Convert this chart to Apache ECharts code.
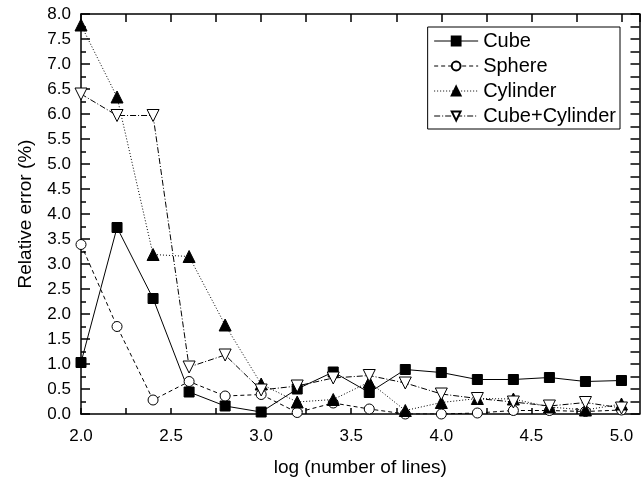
<!DOCTYPE html>
<html>
<head>
<meta charset="utf-8">
<title>Relative error</title>
<script src="https://cdn.jsdelivr.net/npm/echarts@6/dist/echarts.min.js"></script>
<style>
  html, body { margin: 0; padding: 0; background: #fff; }
  #main { width: 642px; height: 482px; }
</style>
</head>
<body>
<div id="main"></div>
<script>
// x = log(number of lines)
var logLines = [2.0, 2.2, 2.4, 2.6, 2.8, 3.0, 3.2, 3.4, 3.6, 3.8, 4.0, 4.2, 4.4, 4.6, 4.8, 5.0];

// relative error (%)
var cube         = [1.03, 3.73, 2.31, 0.44, 0.16, 0.04, 0.50, 0.84, 0.43, 0.89, 0.83, 0.69, 0.69, 0.73, 0.65, 0.67];
var sphere       = [3.39, 1.75, 0.28, 0.65, 0.36, 0.39, 0.03, 0.22, 0.10, 0.00, 0.00, 0.02, 0.07, 0.07, 0.05, 0.08];
var cylinder     = [7.78, 6.34, 3.19, 3.15, 1.78, 0.60, 0.24, 0.29, 0.64, 0.07, 0.23, 0.31, 0.30, 0.14, 0.08, 0.20];
var cubeCylinder = [6.40, 5.97, 5.97, 0.94, 1.18, 0.48, 0.56, 0.72, 0.77, 0.62, 0.40, 0.31, 0.24, 0.16, 0.23, 0.12];

// x tick labels shown every 0.5
var xLabels = ['2.0', '2.5', '3.0', '3.5', '4.0', '4.5', '5.0'];

function pairs(ys) {
    return logLines.map(function (x, i) { return [x, ys[i]]; });
}

var font = 'Liberation Sans, Arial, sans-serif';

function mkSeries(name, ys, symbol, filled, lineType, rotate) {
    return {
        name: name,
        type: 'line',
        data: pairs(ys),
        symbol: symbol,
        symbolSize: symbol === 'triangle' ? 12 : 10,
        symbolRotate: rotate || 0,
        showAllSymbol: true,
        lineStyle: { color: '#000', width: 1, type: lineType },
        itemStyle: {
            color: filled ? '#000' : '#fff',
            borderColor: '#000',
            borderWidth: 1
        },
        emphasis: { disabled: true },
        z: 3
    };
}

function xLabel(v) {
    var s = v.toFixed(1);
    return (Math.abs(v * 2 - Math.round(v * 2)) < 1e-6 && xLabels.indexOf(s) >= 0) ? s : '';
}

var axisLine = { show: true, onZero: false, lineStyle: { color: '#000', width: 1.5 } };
var xTick = { show: true, inside: true, length: 6, lineStyle: { color: '#000', width: 1.5 } };
var yTick = { show: true, inside: true, length: 9, lineStyle: { color: '#000', width: 1.5 } };
var yMinor = { show: true, splitNumber: 2, length: 5, lineStyle: { color: '#000', width: 1.5 } };

var option = {
    backgroundColor: '#fff',
    animation: false,
    grid: { left: 81, right: 2.5, top: 14, bottom: 57 },
    legend: {
        right: 22,
        top: 27,
        orient: 'vertical',
        borderColor: '#000',
        borderWidth: 1,
        padding: [4, 4, 3, 6],
        itemWidth: 44,
        itemHeight: 11,
        itemGap: 5,
        lineStyle: { width: 1 },
        textStyle: { fontFamily: font, fontSize: 20, color: '#000' },
        data: ['Cube', 'Sphere', 'Cylinder', 'Cube+Cylinder']
    },
    xAxis: [{
        type: 'value',
        min: 2.0, max: 5.1, interval: 0.25,
        name: 'log (number of lines)',
        nameLocation: 'middle',
        nameGap: 44,
        nameTextStyle: { fontFamily: font, fontSize: 19, color: '#000' },
        axisLine: axisLine,
        axisTick: xTick,
        axisLabel: { fontFamily: font, fontSize: 17, color: '#000', margin: 14,
            showMaxLabel: false, formatter: xLabel },
        splitLine: { show: false }
    }, {
        type: 'value',
        position: 'top',
        min: 2.0, max: 5.1, interval: 0.25,
        axisLine: axisLine,
        axisTick: { show: true, inside: true, length: 8, lineStyle: { color: '#000', width: 1.5 } },
        axisLabel: { show: false },
        splitLine: { show: false }
    }],
    yAxis: [{
        type: 'value',
        min: 0, max: 8, interval: 0.5,
        name: 'Relative error (%)',
        nameLocation: 'middle',
        nameGap: 46,
        nameTextStyle: { fontFamily: font, fontSize: 19, color: '#000' },
        axisLine: axisLine,
        axisTick: yTick,
        minorTick: yMinor,
        axisLabel: { fontFamily: font, fontSize: 17, color: '#000', margin: 10,
            formatter: function (v) { return v.toFixed(1); } },
        splitLine: { show: false }
    }, {
        type: 'value',
        position: 'right',
        min: 0, max: 8, interval: 0.25,
        axisLine: axisLine,
        axisTick: yTick,
        axisLabel: { show: false },
        splitLine: { show: false }
    }],
    series: [
        mkSeries('Cube', cube, 'rect', true, 'solid'),
        mkSeries('Sphere', sphere, 'circle', false, [4, 3]),
        mkSeries('Cylinder', cylinder, 'triangle', true, [1, 2]),
        mkSeries('Cube+Cylinder', cubeCylinder, 'triangle', false, [6, 2, 1, 2], 180)
    ]
};

var myChart = echarts.init(document.getElementById('main'));
myChart.setOption(option);
</script>
</body>
</html>
